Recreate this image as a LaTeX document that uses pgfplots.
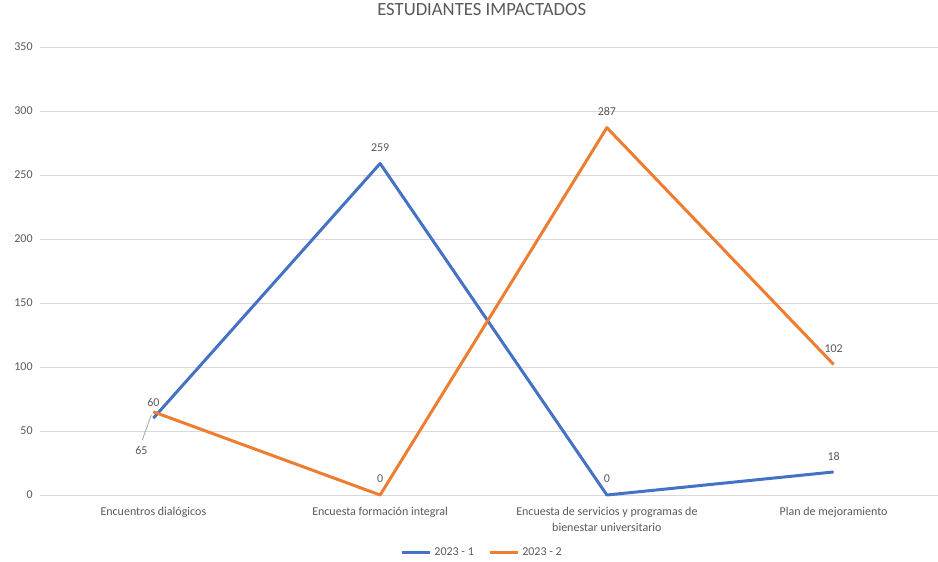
\documentclass[border=0pt]{standalone}
\usepackage{pgfplots}
\pgfplotsset{compat=1.18}
\usepackage{fontspec}
\setmainfont{Carlito}

\definecolor{serieA}{HTML}{4472C4}
\definecolor{serieB}{HTML}{ED7D31}
\definecolor{rejilla}{HTML}{D9D9D9}
\definecolor{texto}{HTML}{595959}

\begin{document}
\begin{tikzpicture}
  \begin{axis}[
      name=ax,
      at={(0,0)}, anchor=south west,
      scale only axis,
      width=680.25pt, height=336pt,
      xmin=-0.5, xmax=3.5,
      ymin=0, ymax=350,
      ytick={0,50,...,350},
      xtick={0,1,2,3},
      xticklabels={Encuentros dialógicos,Encuesta formación integral,{Encuesta de servicios y programas de\\bienestar universitario},Plan de mejoramiento},
      axis line style={draw=none},
      ymajorgrids,
      grid style={rejilla, line width=0.75pt},
      tick style={draw=none},
      clip=false,
      /pgf/number format/assume math mode=true,
      tick label style={font=\fontsize{9}{12}\selectfont, text=texto},
      xticklabel style={align=center, anchor=north, yshift=-5.5pt},
      yticklabel style={anchor=east, xshift=-2pt},
      title={ESTUDIANTES IMPACTADOS},
      title style={font=\fontsize{14}{16}\selectfont, text=texto, at={(0.487,1)}, anchor=center, yshift=21.75pt},
      legend style={draw=none, fill=none, at={(0.488,-0.129)}, anchor=center,
        font=\fontsize{9}{11}\selectfont, text=texto, legend columns=2,
        /tikz/every even column/.append style={column sep=9pt}},
      legend image code/.code={\draw[#1, line width=2.25pt] (0pt,0pt) -- (21pt,0pt);},
      nodes near coords,
      nodes near coords style={font=\fontsize{9}{11}\selectfont, text=texto, anchor=center, yshift=12pt},
    ]
    % eje horizontal
    \draw[rejilla, line width=0.75pt] (axis cs:-0.5,0) -- (axis cs:3.5,0);

    % 2023 - 1
    \addplot[serieA, line width=2.25pt, line join=round] coordinates {
        (0,60) (1,259) (2,0) (3,18)
      };

    % 2023 - 2 (la etiqueta del primer punto va abajo, con linea guia)
    \addplot[serieB, line width=2.25pt, line join=round,
      coordinate style/.condition={\coordindex==0}{xshift=-9pt, yshift=-41.25pt}] coordinates {
        (0,65) (1,0) (2,287) (3,102)
      };

    \legend{2023 - 1,2023 - 2}

    \draw[gray!70, line width=0.6pt] (axis cs:0,65) ++(-1.5pt,-2.25pt) -- ++(-6.75pt,-18.75pt);
  \end{axis}
  \pgfresetboundingbox
  \path[use as bounding box] (-30pt,-49.5pt) rectangle (673.5pt,371.25pt);
\end{tikzpicture}
\end{document}
